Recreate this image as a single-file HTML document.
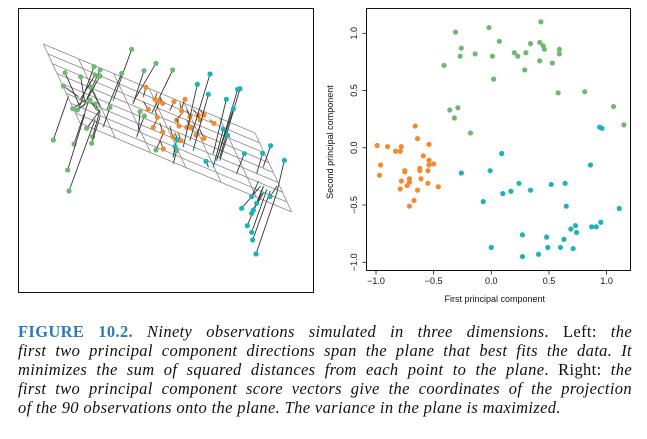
<!DOCTYPE html>
<html><head><meta charset="utf-8"><style>
body{margin:0;background:#fff;width:647px;height:439px;overflow:hidden;position:relative}
svg{position:absolute;left:0;top:0}
.cap{position:absolute;left:18px;width:614px;font-family:"Liberation Serif",serif;font-size:16.5px;letter-spacing:0.35px;font-style:italic;color:#111;text-align:justify;text-align-last:justify;white-space:nowrap;line-height:19px}
.cap .n{font-style:normal}
.cap b{font-style:normal;color:#2b7bba}
</style></head><body>
<svg id="fig" width="647" height="310"></svg>
<div class="cap" style="top:322px"><b>FIGURE 10.2.</b> Ninety observations simulated in three dimensions<span class="n">. Left:</span> the</div>
<div class="cap" style="top:341px">first two principal component directions span the plane that best fits the data. It</div>
<div class="cap" style="top:360px">minimizes the sum of squared distances from each point to the plane<span class="n">. Right:</span> the</div>
<div class="cap" style="top:379px">first two principal component score vectors give the coordinates of the projection</div>
<div class="cap" style="top:398px;text-align-last:left">of the 90 observations onto the plane. The variance in the plane is maximized.</div>
<script>
const greenPC1=[-0.31,-0.02,0.07,-0.26,-0.27,-0.14,-0.41,0.01,0.20,0.23,0.30,0.34,0.42,0.45,0.46,0.43,0.59,0.59,0.42,0.53,0.29,0.02,0.58,0.81,1.06,1.15,-0.36,-0.29,-0.32,-0.18];
const greenPC2=[1.01,1.05,0.93,0.87,0.80,0.82,0.72,0.80,0.83,0.80,0.83,0.91,0.92,0.89,0.86,1.10,0.86,0.82,0.76,0.74,0.68,0.60,0.48,0.49,0.36,0.20,0.33,0.35,0.26,0.13];
const orangePC1=[-0.99,-0.90,-0.78,-0.83,-0.79,-0.64,-0.66,-0.54,-0.59,-0.96,-0.97,-0.75,-0.75,-0.62,-0.54,-0.54,-0.50,-0.62,-0.55,-0.71,-0.71,-0.78,-0.73,-0.61,-0.55,-0.46,-0.79,-0.64,-0.67,-0.71];
const orangePC2=[0.02,0.01,0.01,-0.03,-0.03,0.08,0.19,0.03,-0.07,-0.15,-0.24,-0.20,-0.21,-0.18,-0.11,-0.15,-0.14,-0.20,-0.20,-0.27,-0.30,-0.29,-0.33,-0.27,-0.31,-0.34,-0.36,-0.37,-0.46,-0.51];
const tealPC1=[0.09,-0.26,-0.01,-0.07,0.10,0.17,0.24,0.34,0.52,0.64,0.86,0.94,0.96,0.65,1.11,0.87,0.91,0.95,0.73,0.69,0.74,0.27,0.48,0.63,0.00,0.27,0.41,0.49,0.60,0.71];
const tealPC2=[-0.05,-0.22,-0.20,-0.47,-0.40,-0.38,-0.31,-0.37,-0.32,-0.31,-0.15,0.18,0.17,-0.51,-0.53,-0.69,-0.69,-0.65,-0.68,-0.71,-0.74,-0.76,-0.78,-0.80,-0.87,-0.95,-0.93,-0.87,-0.87,-0.88];
const xTicks=[-1.0,-0.5,0.0,0.5,1.0];
const yTicks=[-1.0,-0.5,0.0,0.5,1.0];
const xTickLabels=["\u22121.0","\u22120.5","0.0","0.5","1.0"];
const yTickLabels=["\u22121.0","\u22120.5","0.0","0.5","1.0"];
const leftGreenPt=[[395,148],[468,190],[518,210],[432,212],[365,220],[282,200],[300,210],[195,218],[190,258],[242,230],[272,262],[218,326],[232,330],[260,385],[278,410],[275,430],[160,420],[222,432],[203,510],[207,573],[330,322],[420,335],[433,348],[468,450],[530,452],[285,225],[300,228],[285,312],[270,300]];
const leftGreenFoot=[[340,300],[400,305],[455,340],[400,310],[320,330],[235,330],[250,320],[240,320],[235,290],[255,310],[300,320],[255,300],[258,310],[300,330],[300,330],[300,350],[205,290],[265,305],[255,340],[285,360],[310,380],[415,390],[410,410],[490,400],[520,490],[240,300],[260,300],[300,340],[290,330]];
const leftOrangePt=[[438,262],[465,298],[478,303],[488,310],[522,305],[555,298],[445,328],[472,352],[460,382],[488,396],[518,410],[543,422],[490,447],[530,360],[537,378],[560,382],[575,382],[595,345],[612,345],[642,370],[588,405],[612,415],[545,333],[570,350],[600,360],[535,420]];
const leftOrangeFoot=[[430,290],[470,280],[470,330],[480,290],[510,330],[545,325],[430,305],[465,330],[470,360],[480,370],[510,380],[535,400],[480,420],[545,340],[530,355],[570,360],[560,360],[580,330],[600,330],[630,360],[600,380],[600,390],[540,310],[560,330],[590,340],[525,400]];
const leftTealPt=[[630,222],[592,253],[625,283],[679,298],[713,268],[720,266],[700,327],[670,388],[683,406],[618,484],[733,461],[788,460],[812,437],[853,481],[725,625],[742,677],[755,697],[758,720],[768,762],[755,640],[760,630],[810,590],[530,418],[525,440],[755,590],[770,610]];
const leftTealFoot=[[570,420],[550,440],[580,450],[640,460],[650,480],[660,470],[650,480],[640,500],[660,480],[625,500],[710,520],[770,520],[790,500],[830,580],[780,560],[790,560],[800,570],[810,575],[830,580],[785,580],[790,580],[830,560],[520,470],[520,470],[775,545],[790,560]];
const NS='http://www.w3.org/2000/svg';
const svg=document.getElementById('fig');
function mk(tag,attrs,parent){const e=document.createElementNS(NS,tag);for(const k in attrs)e.setAttribute(k,attrs[k]);(parent||svg).appendChild(e);return e;}
const GREEN='#6fb86f',ORANGE='#f28a2e',TEAL='#1ab3b8';
const lb=mk('rect',{x:18.5,y:8.5,width:295,height:284,fill:'none',stroke:'#111','stroke-width':1});


const A=[43.3,44],B=[255,133],D=[80,123];
const plane=mk('g',{stroke:'#888','stroke-width':0.8,fill:'none'});


function P(u,v){return [A[0]+u*(B[0]-A[0])+v*(D[0]-A[0]),A[1]+u*(B[1]-A[1])+v*(D[1]-A[1])];}
for(let i=0;i<=8;i++){const v=i/8,p=P(0,v),q=P(1,v);mk('line',{x1:p[0],y1:p[1],x2:q[0],y2:q[1]},plane);}
for(let i=0;i<=6;i++){const u=i/6,p=P(u,0),q=P(u,1);mk('line',{x1:p[0],y1:p[1],x2:q[0],y2:q[1]},plane);}
function leftSeries(pts,feet,col,name){
  const g=mk('g',{});
  
  
  pts.forEach((p,i)=>{const f=feet[i];
    mk('line',{x1:p[0]/3,y1:p[1]/3,x2:f[0]/3,y2:f[1]/3,stroke:'#333','stroke-width':0.9},g);
    mk('circle',{cx:f[0]/3,cy:f[1]/3,r:0.9,fill:col},g);
    const c=mk('circle',{cx:p[0]/3,cy:p[1]/3,r:2.6,fill:col},g);
    
    
  });
}
leftSeries(leftGreenPt,leftGreenFoot,GREEN,'left-green-cluster');
leftSeries(leftOrangePt,leftOrangeFoot,ORANGE,'left-orange-cluster');
leftSeries(leftTealPt,leftTealFoot,TEAL,'left-teal-cluster');
const X=v=>491.3+115.3*v, Y=v=>147.8-114.5*v;
const rb=mk('rect',{x:366.5,y:8.5,width:264,height:262,fill:'none',stroke:'#111','stroke-width':1});


const ax=mk('g',{stroke:'#111','stroke-width':0.8,fill:'#111','font-family':'Liberation Sans, sans-serif','font-size':9});


mk('line',{x1:X(-1),y1:270.5,x2:X(1),y2:270.5},ax);
xTicks.forEach((t,i)=>{mk('line',{x1:X(t),y1:270.5,x2:X(t),y2:274.5},ax);
  const tx=mk('text',{x:X(t),y:284,'text-anchor':'middle',stroke:'none'},ax);tx.textContent=xTickLabels[i];
  
  });
const ay=mk('g',{stroke:'#111','stroke-width':0.8,fill:'#111','font-family':'Liberation Sans, sans-serif','font-size':9});


mk('line',{x1:366.5,y1:Y(-1),x2:366.5,y2:Y(1)},ay);
yTicks.forEach((t,i)=>{mk('line',{x1:362.5,y1:Y(t),x2:366.5,y2:Y(t)},ay);
  const tx=mk('text',{x:0,y:0,'text-anchor':'middle',stroke:'none',transform:`translate(357,${Y(t)}) rotate(-90)`},ay);tx.textContent=yTickLabels[i];
  
  });
const xt=mk('text',{x:X(0.03),y:302,'text-anchor':'middle','font-family':'Liberation Sans, sans-serif','font-size':9,fill:'#111'});
xt.textContent='First principal component';


const yt=mk('text',{x:0,y:0,'text-anchor':'middle','font-family':'Liberation Sans, sans-serif','font-size':9,fill:'#111',transform:`translate(333,${Y(0.05)}) rotate(-90)`});
yt.textContent='Second principal component';


function rightSeries(xs,ys,col,name){
  const g=mk('g',{fill:col});
  
  
  xs.forEach((x,i)=>{const c=mk('circle',{cx:X(x),cy:Y(ys[i]),r:2.6},g);
    
    });
}
rightSeries(greenPC1,greenPC2,GREEN,'green-scores');
rightSeries(orangePC1,orangePC2,ORANGE,'orange-scores');
rightSeries(tealPC1,tealPC2,TEAL,'teal-scores');
</script>
</body></html>
